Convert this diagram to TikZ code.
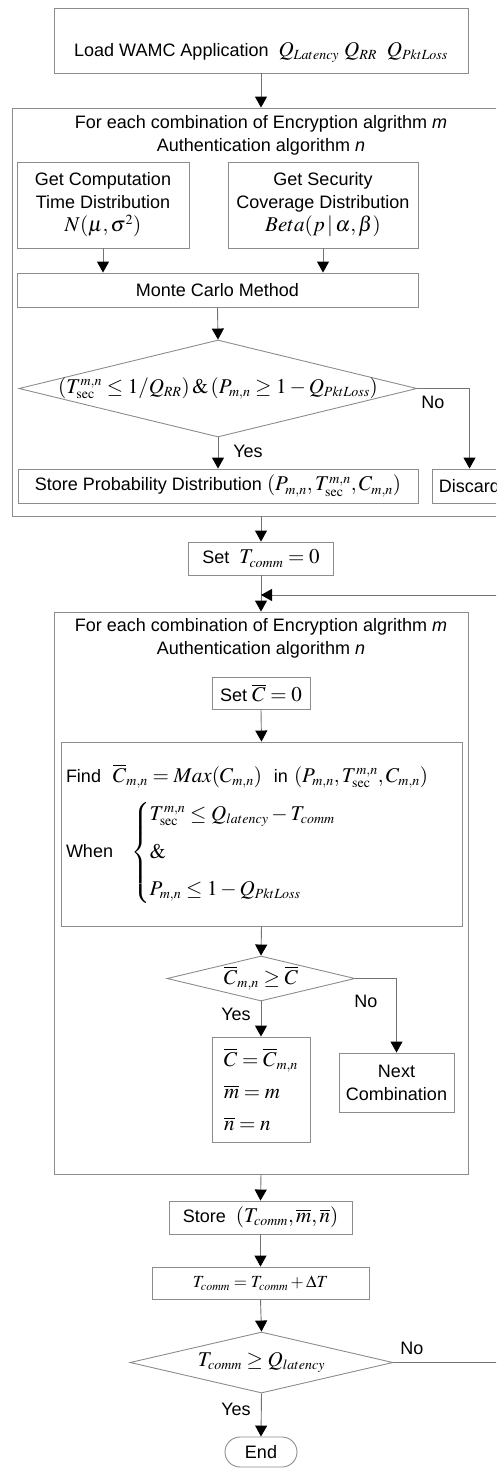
\documentclass[tikz,border=0pt]{standalone}
\usepackage{amsmath}
\usepackage{mathptmx}
\usepackage[no-math]{fontspec}
\setmainfont{Liberation Sans}
\DeclareMathSizes{18}{21}{14}{11}
\DeclareMathSizes{15}{17}{12}{9}
\usetikzlibrary{arrows.meta,positioning,shapes.geometric}

\begin{document}
\begin{tikzpicture}[x=1pt, y=-1pt,
  every node/.style={font=\fontsize{18}{23}\selectfont},
  box/.style={draw=black!45, line width=0.9pt, align=center, inner sep=2pt},
  dia/.style={diamond, draw=black!45, line width=0.9pt, inner sep=0pt},
  arr/.style={draw=black!55, line width=0.9pt,
              -{Triangle[length=11pt, width=12pt, color=black]}},
  lbl/.style={inner sep=1pt}
]
  \useasboundingbox (0,0) rectangle (496,1468);
  \clip (0,0) rectangle (496,1468);

  % first stage: probability distributions
  \node[box, minimum width=414pt, minimum height=65pt, text height=36pt, text depth=5pt]
    (load) at (261,40.5)
    {Load WAMC Application\ \ $Q_{Latency}\ Q_{RR}\ \ Q_{PktLoss}$};
  \node[box, minimum width=508pt, minimum height=408pt] (loop1) at (266,312) {};
  \node[align=center] (tit1) at (261,135)
    {For each combination of Encryption algrithm \textit{m}\\Authentication algorithm \textit{n}};
  \node[box, minimum width=172pt, minimum height=86pt] (comp) at (103,205)
    {Get Computation\\Time Distribution\\$N(\mu,\sigma^2)$};
  \node[box, minimum width=190pt, minimum height=86pt] (secu) at (323,205)
    {Get Security\\Coverage Distribution\\$Beta(p\,|\,\alpha,\beta)$};
  \node[box, minimum width=401pt, minimum height=34pt] (mc) at (217.5,290) {Monte Carlo Method};
  \node[dia, minimum width=398pt, minimum height=97pt,
        label=center:{$(T^{m,n}_{\mathrm{sec}}\le 1/Q_{RR})\,\&\,(P_{m,n}\ge 1-Q_{PktLoss})$}]
    (dec1) at (218,388.5) {};
  \node[box, minimum width=400pt, minimum height=34pt] (store1) at (218,486)
    {Store Probability Distribution\ $(P_{m,n},T^{m,n}_{\mathrm{sec}},C_{m,n})$};
  \node[box, minimum width=75pt, minimum height=34pt] (discard) at (469.5,486) {Discard};
  \node[lbl] (no1) at (433,402) {No};
  \node[lbl] (yes1) at (248,451) {Yes};

  \draw[arr] (load.south) -- (load.south |- loop1.north);
  \draw[arr] (comp.south) -- (comp.south |- mc.north);
  \draw[arr] (secu.south) -- (secu.south |- mc.north);
  \draw[arr] (mc.south) -- (dec1.north);
  \draw[arr] (dec1.south) -- (store1.north);
  \draw[arr] (dec1.east) -| (discard.north);

  % second stage: search over T_comm
  \node[box, minimum width=145pt, minimum height=33pt] (settc) at (261,558.5)
    {Set\ \ $T_{comm}=0$};
  \coordinate (join) at (261,595);
  \coordinate (rt) at (520,0);
  \node[box, minimum width=414pt, minimum height=562pt] (loop2) at (261,893) {};
  \node[align=center] (tit2) at (261,638.5)
    {For each combination of Encryption algrithm \textit{m}\\Authentication algorithm \textit{n}};
  \node[box, minimum width=98pt, minimum height=32pt] (setc) at (261,693)
    {Set\ $\overline{C}=0$};
  \node[box, minimum width=401pt, minimum height=184pt, text width=391pt, align=left]
    (find) at (261.5,834)
    {Find\ \ $\overline{C}_{m,n}=Max(C_{m,n})$\ \ in\ $(P_{m,n},T^{m,n}_{\mathrm{sec}},C_{m,n})$\\[12pt]
     When\ \ \ $\begin{cases}T^{m,n}_{\mathrm{sec}}\le Q_{latency}-T_{comm}\\[10pt]
       \&\\[10pt] P_{m,n}\le 1-Q_{PktLoss}\end{cases}$};
  \node[dia, minimum width=188pt, minimum height=45pt,
        label=center:{$\overline{C}_{m,n}\ge\overline{C}$}] (dec2) at (261,978.5) {};
  \node[box, minimum width=98pt, minimum height=105pt, align=left] (assign) at (261,1089.5)
    {$\overline{C}=\overline{C}_{m,n}$\\[9pt]$\overline{m}=m$\\[9pt]$\overline{n}=n$};
  \node[box, minimum width=115pt, minimum height=59pt] (next) at (396.5,1082.5)
    {Next\\Combination};
  \node[lbl] (no2) at (366,1001) {No};
  \node[lbl] (yes2) at (236,1014) {Yes};
  \node[box, minimum width=183pt, minimum height=33pt] (store2) at (260.5,1217.5)
    {Store\ \ $(T_{comm},\overline{m},\overline{n})$};
  \node[box, minimum width=217pt, minimum height=32pt, font=\fontsize{15}{18}\selectfont]
    (upd) at (260.5,1283) {$T_{comm}=T_{comm}+\Delta T$};
  \node[dia, minimum width=263pt, minimum height=61pt,
        label=center:{$T_{comm}\ge Q_{latency}$}] (dec3) at (261.5,1362.5) {};
  \node[lbl] (no3) at (412,1348) {No};
  \node[lbl] (yes3) at (236,1409) {Yes};
  \node[box, rounded corners=15pt, minimum width=72pt, minimum height=30pt] (end) at (261,1452) {End};

  \draw[arr] (settc.north |- loop1.south) -- (settc.north);
  \draw[arr] (settc.south) -- (loop2.north);
  \draw[arr] (dec3.east) -| (rt |- join) -- (join);
  \draw[arr] (setc.south) -- (find.north);
  \draw[arr] (find.south) -- (dec2.north);
  \draw[arr] (dec2.south) -- (assign.north);
  \draw[arr] (dec2.east) -| (next.north);
  \draw[arr] (loop2.south) -- (store2.north);
  \draw[arr] (store2.south) -- (upd.north);
  \draw[arr] (upd.south) -- (dec3.north);
  \draw[arr] (dec3.south) -- (end.north);
\end{tikzpicture}
\end{document}
